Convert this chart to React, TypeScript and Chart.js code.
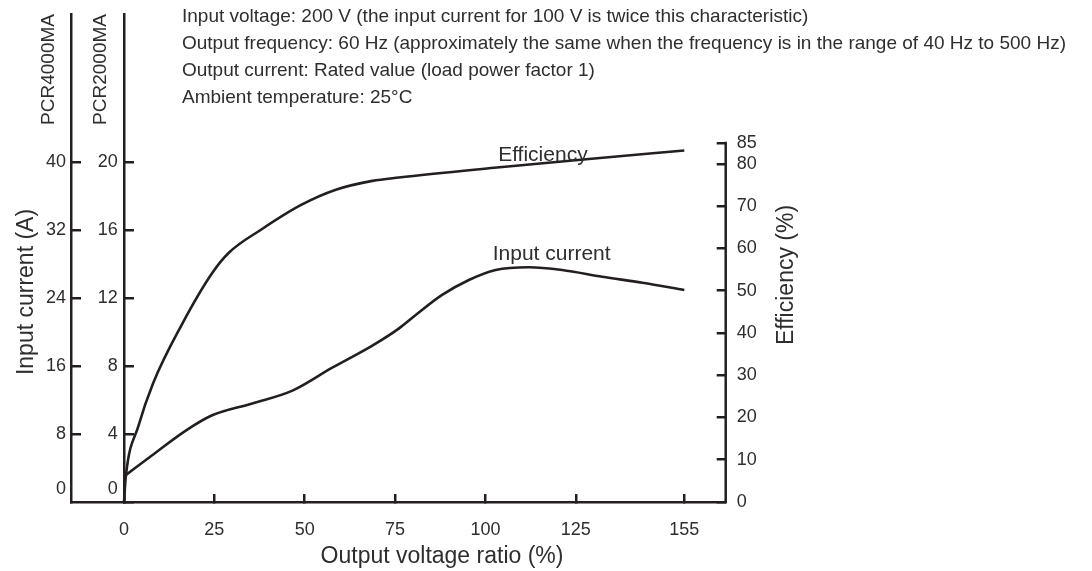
import React, { useEffect, useRef } from 'react';
import { Chart, registerables } from 'chart.js';

Chart.register(...registerables);

// ---- data ----
const X_TICKS = [0, 25, 50, 75, 100, 125, 155];
const CUR_TICKS_4000 = [0, 8, 16, 24, 32, 40];
const CUR_TICKS_2000 = [0, 4, 8, 12, 16, 20];
const EFF_TICKS = [0, 10, 20, 30, 40, 50, 60, 70, 80, 85];

const EFF_X = [0, 0.5, 4, 8, 16, 24.4, 29, 38, 49, 58.6, 68.7, 76, 102.4, 128.6, 155];
const EFF_Y = [0, 6, 18, 28, 42, 54.2, 59, 64.5, 70.3, 73.9, 76.0, 76.8, 79.1, 81.2, 83.2];

const CUR_X = [0.3, 7.8, 17.1, 24.4, 35.5, 46.6, 57.6, 68.7, 76, 80.7, 88.0, 95.4, 102.8, 112.0, 121.2, 132.3, 143.4, 155];
const CUR_Y = [1.55, 2.75, 4.2, 5.1, 5.8, 6.55, 7.9, 9.2, 10.2, 11.0, 12.18, 13.06, 13.65, 13.81, 13.65, 13.25, 12.9, 12.47];

const NOTES = [
  'Input voltage: 200 V (the input current for 100 V is twice this characteristic)',
  'Output frequency: 60 Hz (approximately the same when the frequency is in the range of 40 Hz to 500 Hz)',
  'Output current: Rated value (load power factor 1)',
  'Ambient temperature: 25°C',
];

const X_TITLE = 'Output voltage ratio (%)';
const Y_LEFT_TITLE = 'Input current (A)';
const Y_RIGHT_TITLE = 'Efficiency (%)';
const MODEL_OUTER = 'PCR4000MA';
const MODEL_INNER = 'PCR2000MA';
const LABEL_EFF = 'Efficiency';
const LABEL_CUR = 'Input current';

// ---- style / layout ----
const FONT = "'Liberation Sans', Arial, Helvetica, sans-serif";
const LINE = '#231f20';
const TEXT = '#2e2e2e';
const W = 1092;
const H = 571;
// the "0" labels of the left axes sit a little above the baseline
const OUTER_ZERO_LABEL = 1.53;
const INNER_ZERO_LABEL = 0.765;

function vText(ctx: CanvasRenderingContext2D, text: string, x: number, y: number, size: number, align: CanvasTextAlign) {
  ctx.save();
  ctx.translate(x, y);
  ctx.rotate(-Math.PI / 2);
  ctx.font = `${size}px ${FONT}`;
  ctx.textAlign = align;
  ctx.textBaseline = 'middle';
  ctx.fillText(text, 0, 0);
  ctx.restore();
}

const overlayPlugin = {
  id: 'overlay',
  afterDraw(chart: any) {
    const { ctx, scales, chartArea } = chart;
    const yE = scales.yE;
    const x = scales.x;
    const yI = scales.yI;
    ctx.save();
    // right efficiency axis line, 0..85 only
    ctx.strokeStyle = LINE;
    ctx.lineWidth = 2.5;
    ctx.beginPath();
    ctx.moveTo(chartArea.right, yE.getPixelForValue(EFF_TICKS[EFF_TICKS.length - 1]) - 1.2);
    ctx.lineTo(chartArea.right, yE.getPixelForValue(0) + 1.2);
    ctx.stroke();

    ctx.fillStyle = TEXT;
    // notes
    ctx.font = `19px ${FONT}`;
    ctx.textAlign = 'left';
    ctx.textBaseline = 'middle';
    NOTES.forEach((t, i) => ctx.fillText(t, 182, 17 + i * 27));

    // curve labels
    ctx.font = `21px ${FONT}`;
    ctx.fillText(LABEL_EFF, x.getPixelForValue(103.5), yE.getPixelForValue(82));
    ctx.fillText(LABEL_CUR, x.getPixelForValue(102), yI.getPixelForValue(14.6));

    // axis titles
    ctx.font = `23px ${FONT}`;
    ctx.textAlign = 'center';
    ctx.fillText(X_TITLE, 442, 557);
    vText(ctx, Y_LEFT_TITLE, 27, 292, 23, 'center');
    vText(ctx, Y_RIGHT_TITLE, 787, 275, 23, 'center');
    vText(ctx, MODEL_OUTER, 49, 14, 19, 'right');
    vText(ctx, MODEL_INNER, 101, 14, 19, 'right');
    ctx.restore();
  },
};

function fixedTicks(values: number[], zeroAt?: number) {
  return (s: any) => {
    s.ticks = values.map((v) => ({ value: v === 0 && zeroAt !== undefined ? zeroAt : v }));
  };
}
function zeroLabel(zeroAt: number) {
  return (v: any) => (v === zeroAt ? '0' : String(v));
}
function noPadV(width?: number) {
  return (s: any) => {
    if (width !== undefined) s.width = width;
    s.paddingTop = 0;
    s.paddingBottom = 0;
  };
}

export default function App() {
  const ref = useRef<HTMLCanvasElement | null>(null);

  useEffect(() => {
    if (!ref.current) return;
    const tickFont = { family: FONT, size: 18 };
    const chart = new Chart(ref.current, {
      type: 'line',
      data: {
        datasets: [
          {
            label: LABEL_EFF,
            data: EFF_X.map((v, i) => ({ x: v, y: EFF_Y[i] })),
            yAxisID: 'yE',
            xAxisID: 'x',
            borderColor: LINE,
            borderWidth: 2.6,
            pointRadius: 0,
            cubicInterpolationMode: 'monotone',
            fill: false,
          },
          {
            label: LABEL_CUR,
            data: CUR_X.map((v, i) => ({ x: v, y: CUR_Y[i] })),
            yAxisID: 'yI',
            xAxisID: 'x',
            borderColor: LINE,
            borderWidth: 2.6,
            pointRadius: 0,
            cubicInterpolationMode: 'monotone',
            fill: false,
          },
        ],
      },
      options: {
        responsive: false,
        animation: false,
        devicePixelRatio: 1,
        layout: { padding: { top: 14, left: 0, right: 0, bottom: 0 } },
        plugins: { legend: { display: false }, tooltip: { enabled: false }, title: { display: false } },
        scales: {
          x: {
            type: 'linear',
            position: 'bottom',
            min: -14.66,
            max: 166.45,
            afterBuildTicks: fixedTicks(X_TICKS),
            afterFit: (s: any) => { s.height = H - 502; s.paddingLeft = 0; s.paddingRight = 0; },
            ticks: { font: tickFont, color: TEXT, padding: 25, maxRotation: 0, autoSkip: false },
            grid: { drawOnChartArea: false, drawTicks: true, tickLength: -8, color: LINE, lineWidth: 2.5 },
            border: { color: LINE, width: 2.5 },
          },
          yO: {
            type: 'linear',
            position: 'left',
            min: 0,
            max: 57.41,
            afterBuildTicks: fixedTicks(CUR_TICKS_4000, OUTER_ZERO_LABEL),
            afterFit: noPadV(71),
            ticks: { font: tickFont, color: TEXT, padding: 15, autoSkip: false, callback: zeroLabel(OUTER_ZERO_LABEL) },
            grid: {
              drawOnChartArea: false,
              drawTicks: true,
              tickLength: -10,
              color: (c: any) => (c.tick && c.tick.value === OUTER_ZERO_LABEL ? 'rgba(0,0,0,0)' : LINE),
              lineWidth: 2.5,
            },
            border: { color: LINE, width: 2.5 },
          },
          yI: {
            type: 'linear',
            position: { x: 0 },
            min: 0,
            max: 28.706,
            afterBuildTicks: fixedTicks(CUR_TICKS_2000),
            afterFit: noPadV(),
            ticks: { display: false },
            grid: { drawOnChartArea: false, drawTicks: true, tickLength: -11, color: LINE, lineWidth: 2.5 },
            border: { color: LINE, width: 2.5 },
          },
          yIL: {
            type: 'linear',
            position: { x: -1.75 },
            min: 0,
            max: 28.706,
            afterBuildTicks: fixedTicks(CUR_TICKS_2000, INNER_ZERO_LABEL),
            afterFit: noPadV(),
            ticks: { font: tickFont, color: TEXT, padding: 0, autoSkip: false, callback: zeroLabel(INNER_ZERO_LABEL) },
            grid: { display: false },
            border: { display: false },
          },
          yE: {
            type: 'linear',
            position: 'right',
            min: 0,
            max: 115.5,
            afterBuildTicks: fixedTicks(EFF_TICKS),
            afterFit: noPadV(W - 725.7),
            ticks: { font: tickFont, color: TEXT, padding: 20, autoSkip: false },
            grid: { drawOnChartArea: false, drawTicks: true, tickLength: -9, color: LINE, lineWidth: 2.5 },
            border: { display: false },
          },
        },
      } as any,
      plugins: [overlayPlugin],
    });
    return () => chart.destroy();
  }, []);

  return (
    <div style={{ position: 'fixed', left: 0, top: 0, width: W, height: H, background: '#fff' }}>
      <canvas ref={ref} width={W} height={H} />
    </div>
  );
}
